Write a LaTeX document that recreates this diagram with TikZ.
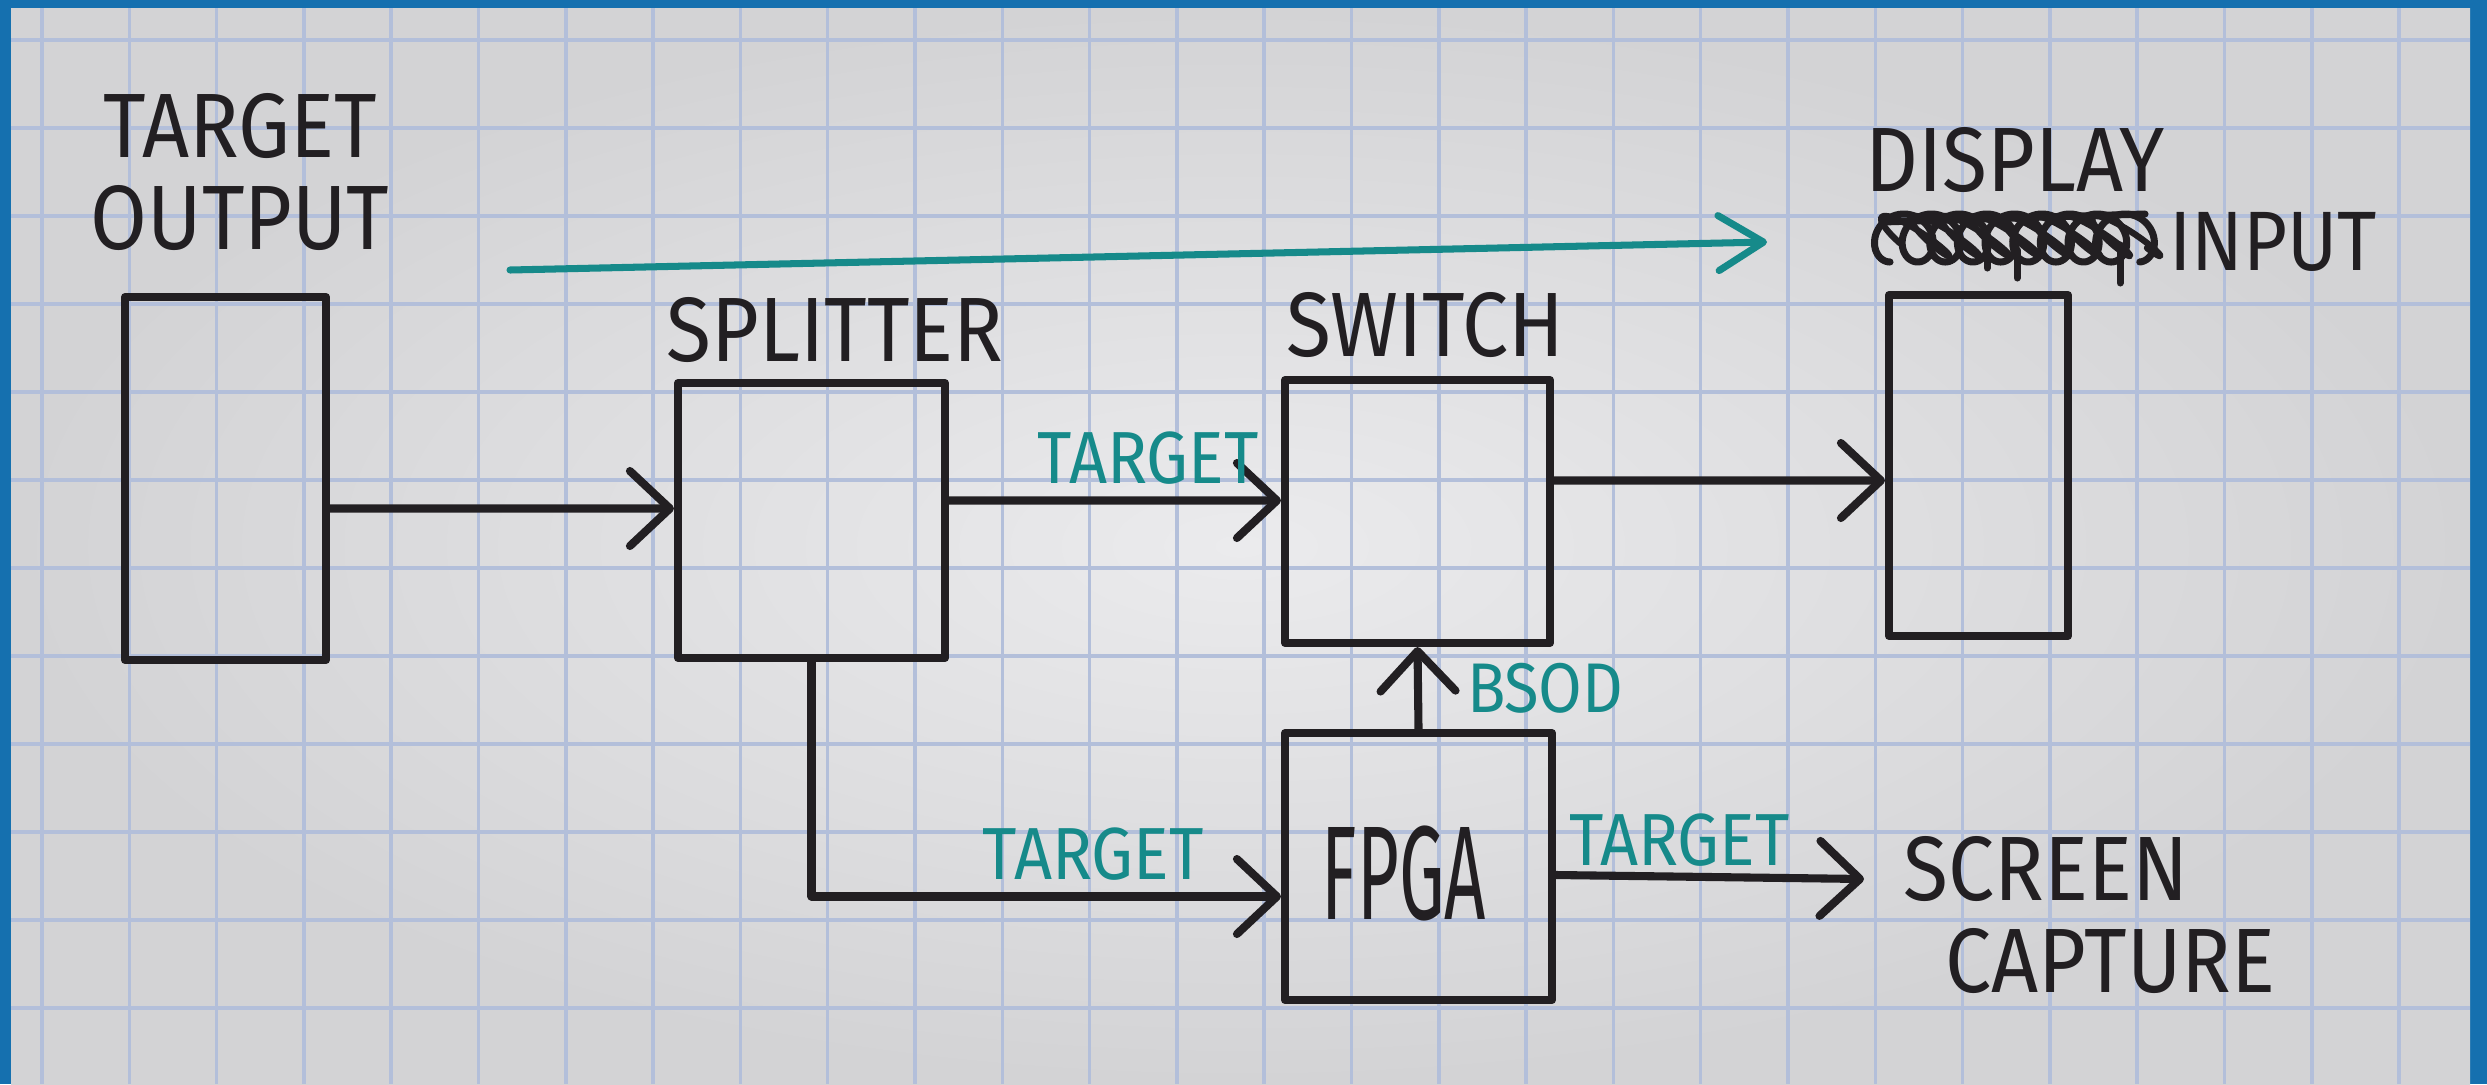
\documentclass[tikz,border=0pt]{standalone}
\usepackage{fontspec}
\usepackage{tikz}
\usetikzlibrary{arrows.meta,positioning}
\newfontfamily\handfont[FakeStretch=0.9]{Fira Sans}
\definecolor{inkc}{HTML}{221F22}
\definecolor{tealc}{HTML}{168A8A}
\definecolor{framec}{HTML}{1570AF}
\definecolor{gridc}{HTML}{B3BFDA}
\definecolor{paperin}{HTML}{EBEBED}
\definecolor{paperout}{HTML}{D3D3D5}

\begin{document}
\begin{tikzpicture}[x=.1mm,y=-.1mm,
    ink/.style={draw=inkc,line width=2.3pt,line cap=round,line join=round},
    blockbox/.style={ink,rectangle,inner sep=0pt},
    wire/.style={ink,-{Straight Barb[length=4mm,width=7.5mm,round]}},
    plan/.style={draw=tealc,line width=2pt,line cap=round,-{Straight Barb[length=4.5mm,width=5.5mm,round]}},
    word/.style={text=inkc,font=\handfont\fontsize{26}{26}\selectfont,align=center,inner sep=0pt},
    tword/.style={text=tealc,font=\handfont\fontsize{21}{21}\selectfont,inner sep=0pt}]
  \useasboundingbox (0,0) rectangle (2487,1084);
  % paper
  \fill[framec] (0,0) rectangle (2487,1084);
  \shade[inner color=paperin,outer color=paperout] (11,8) rectangle (2470,1084);
  \begin{scope}
    \clip (11,8) rectangle (2470,1084);
    \foreach \i in {0,...,28}
      \draw[gridc,line width=1pt] ({42+87.3*\i},8) -- ({42+87.3*\i},1084);
    \foreach \j in {0,...,11}
      \draw[gridc,line width=1pt] (11,{40+88*\j}) -- (2470,{40+88*\j});
  \end{scope}

  % boxes
  \node[blockbox,minimum width=2.01cm,minimum height=3.63cm] (tout) at (225.5,478.5) {};
  \node[blockbox,minimum width=2.67cm,minimum height=2.75cm] (split) at (811.5,520.5) {};
  \node[blockbox,minimum width=2.65cm,minimum height=2.63cm] (sw) at (1417.5,511.5) {};
  \node[blockbox,minimum width=1.79cm,minimum height=3.41cm] (disp) at (1978.5,465.5) {};
  \node[blockbox,minimum width=2.67cm,minimum height=2.67cm] (fpga) at (1418.5,866.5) {};

  % names
  \node[word] (toutlbl) at (240,172) {TARGET\\OUTPUT};
  \node[word] (splitlbl) at (835,330) {SPLITTER};
  \node[word] (swlbl) at (1425,325) {SWITCH};
  \node[word] (displbl) at (2015,160) {DISPLAY};
  \node[word,font=\handfont\fontsize{24}{24}\selectfont] (inlbl) at (2273,242) {INPUT};
  \node[word,font=\handfont\fontsize{38}{38}\selectfont,xscale=.6] (fpgalbl) at (1404,873) {FPGA};
  \node[word,align=left,anchor=west] (cap) at (1903,915) {SCREEN\\\hspace*{4.2mm}CAPTURE};

  % scribbled-out word
  \draw[ink,line width=2pt] plot[domain=0:56.5,samples=500,variable=\t]
    ({1890+4.4*\t-22*sin(\t r)},{238+24*cos(\t r)});
  \draw[ink,line width=1.8pt] plot[domain=0:50,samples=450,variable=\t]
    ({1900+4.8*\t-26*sin(\t r)},{236+20*cos((\t+1.2) r)});
  \draw[ink,line width=2pt] (1882,222) -- (2145,214);
  \draw[ink,line width=2pt] (1987,245) -- (1987,268);
  \draw[ink,line width=2pt] (2017,250) -- (2017,278);
  \draw[ink,line width=2pt] (2120,245) -- (2120,283);

  % connectors
  \coordinate (capin) at (1864,879);
  \coordinate (planfrom) at (510,270);
  \coordinate (planto) at (1767,242);
  \draw[wire] ([yshift=-3mm]tout.east) -- ([yshift=1.2mm]split.west);
  \draw[wire] ([yshift=2mm]split.east) -- ([yshift=1.1mm]sw.west)
    node[tword,above=1.2mm,pos=.6] (t1) {TARGET};
  \draw[wire] ([yshift=3.1mm]sw.east) -- ([yshift=-1.5mm]disp.west);
  \draw[wire] (fpga.north) -- (sw.south)
    node[tword,font=\handfont\fontsize{20}{20}\selectfont,right=4.5mm,pos=.5] (bsod) {BSOD};
  \draw[wire] (split.south) |- ([yshift=-3mm]fpga.west)
    node[tword,above=1.2mm,pos=.8] (t2) {TARGET};
  \draw[wire] ([yshift=-.85mm]fpga.east) -- (capin)
    node[tword,above=.6mm,pos=.4] (t3) {TARGET};
  \draw[plan] (planfrom) -- (planto);
\end{tikzpicture}
\end{document}
